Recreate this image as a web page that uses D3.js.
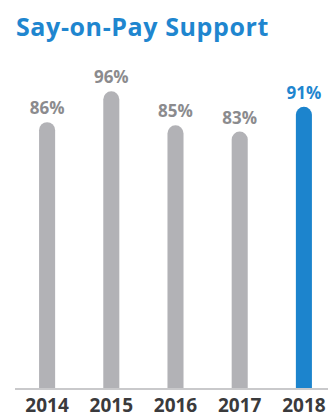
<!DOCTYPE html>
<html>
<head>
<meta charset="utf-8">
<script src="https://cdn.jsdelivr.net/npm/d3@7"></script>
<style>
  html, body { margin: 0; padding: 0; background: #fff; }
  svg { display: block; font-family: "Open Sans", "DejaVu Sans", sans-serif; }
</style>
</head>
<body>
<div id="chart"></div>
<script>
// Say-on-Pay support by year
const years = ['2014', '2015', '2016', '2017', '2018'];
const support = [86, 96, 85, 83, 91];
const highlightYear = '2018';

const width = 328;
const height = 418;
const baseline = 388;

const svg = d3.select('#chart')
    .append('svg')
    .attr('width', width)
    .attr('height', height);

svg.append('text')
    .attr('x', 16)
    .attr('y', 36)
    .attr('fill', '#1f86cf')
    .attr('font-size', '25px')
    .attr('font-weight', '700')
    .attr('letter-spacing', '0.6px')
    .text('Say-on-Pay Support');

const x = d3.scaleBand()
    .domain(years)
    .range([15, 336])
    .paddingInner(0.75)
    .paddingOuter(0.375);

const y = d3.scaleLinear()
    .domain([0, 100])
    .range([baseline, baseline - 309]);

const data = years.map((yr, i) => ({ year: yr, value: support[i] }));
const bw = x.bandwidth();
const r = bw / 2;

// bars with rounded tops
svg.append('g')
    .selectAll('path')
    .data(data)
    .join('path')
    .attr('d', d => {
        const x0 = x(d.year), x1 = x0 + bw, top = y(d.value);
        return `M${x0},${baseline} L${x0},${top + r} A${r},${r} 0 0 1 ${x1},${top + r} L${x1},${baseline} Z`;
    })
    .attr('fill', d => d.year === highlightYear ? '#1c84cd' : '#b2b2b6');

// value labels
svg.append('g')
    .selectAll('text')
    .data(data)
    .join('text')
    .attr('x', d => x(d.year) + bw / 2)
    .attr('y', d => y(d.value) - 8)
    .attr('text-anchor', 'middle')
    .attr('font-size', '17px')
    .attr('font-weight', '700')
    .attr('fill', d => d.year === highlightYear ? '#1f86cf' : '#8b8b8e')
    .text(d => d.value + '%');

// baseline
svg.append('line')
    .attr('x1', 15)
    .attr('x2', width)
    .attr('y1', baseline + 1)
    .attr('y2', baseline + 1)
    .attr('stroke', '#c9c9cb')
    .attr('stroke-width', 2);

// year axis
const axis = svg.append('g')
    .attr('transform', `translate(0,${baseline})`)
    .call(d3.axisBottom(x).tickSize(0).tickPadding(0));
axis.select('.domain').remove();
axis.selectAll('text')
    .attr('dy', null)
    .attr('y', 24)
    .attr('fill', '#3a3a3c')
    .attr('font-size', '19px')
    .attr('font-weight', '700')
    .attr('font-family', '"Open Sans", "DejaVu Sans", sans-serif');
</script>
</body>
</html>
